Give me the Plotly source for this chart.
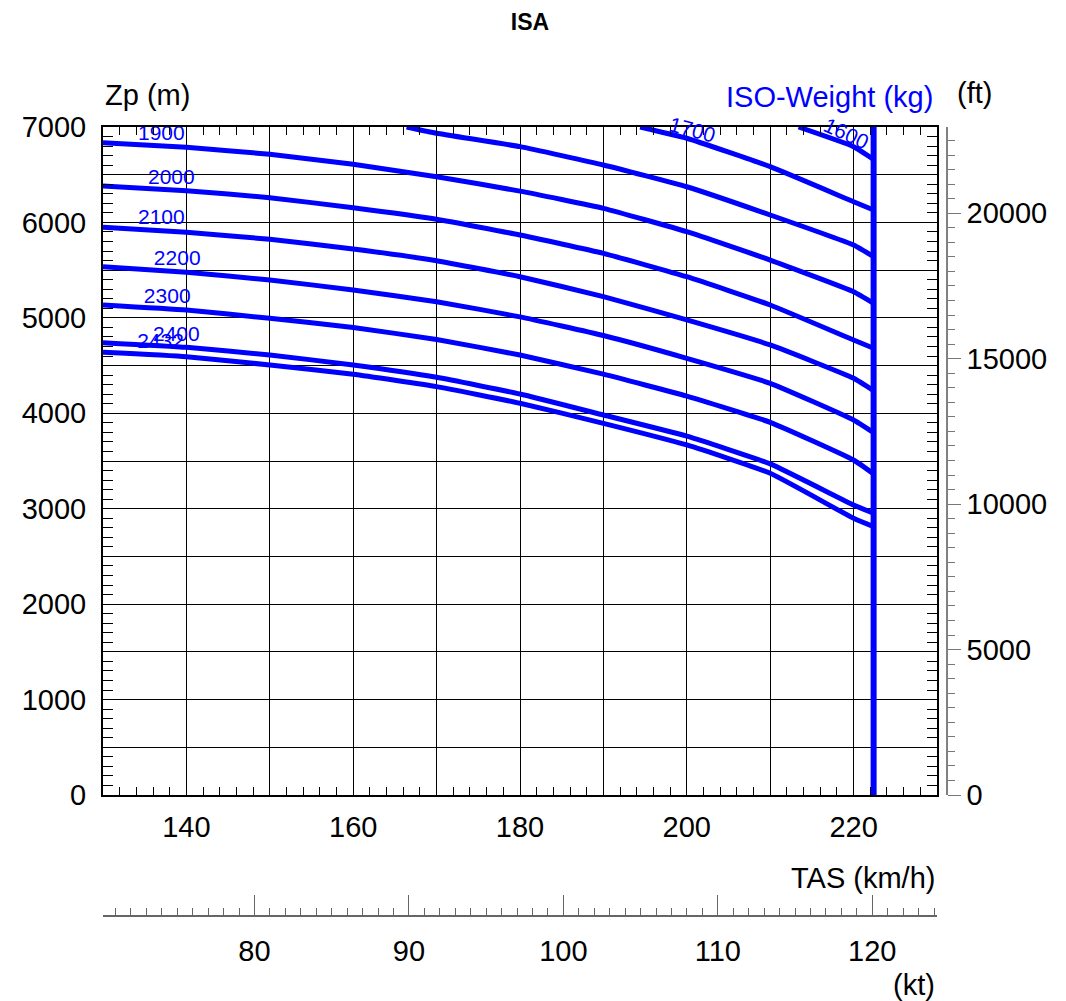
import plotly.graph_objects as go

# ---- data: ISO-weight ceiling curves, Zp (m) versus TAS (km/h) ----
tas_full = [130, 140, 150, 160, 170, 180, 190, 200, 210, 220, 222.4]
zp_1900 = [6835, 6787, 6714, 6609, 6479, 6328, 6148, 5903, 5606, 5274, 5153]
zp_2000 = [6382, 6333, 6259, 6154, 6033, 5868, 5676, 5431, 5135, 4768, 4681]
zp_2100 = [5949, 5897, 5823, 5722, 5599, 5431, 5222, 4978, 4716, 4367, 4237]
zp_2200 = [5536, 5477, 5397, 5292, 5169, 5010, 4815, 4576, 4314, 3930, 3797]
zp_2300 = [5135, 5082, 4995, 4899, 4773, 4610, 4410, 4180, 3905, 3510, 3364]
zp_2400 = [4740, 4691, 4611, 4506, 4377, 4202, 3982, 3760, 3470, 3039, 2952]
zp_2432 = [4639, 4593, 4506, 4408, 4279, 4105, 3895, 3668, 3371, 2900, 2812]

tas_1800 = [166.4, 170, 180, 190, 200, 210, 220, 222.4]
zp_1800 = [7000, 6934, 6794, 6602, 6374, 6078, 5763, 5641]
tas_1700 = [194.4, 200, 210, 220, 222.4]
zp_1700 = [7000, 6882, 6584, 6217, 6130]
tas_1600 = [213.4, 220, 222.4]
zp_1600 = [7000, 6794, 6661]

# limiting speed (vertical boundary)
vne_tas = 222.4
vne_zp = [0, 7000]

# curve labels
flat_labels = ["1900", "2000", "2100", "2200", "2300", "2400", "2432"]
flat_label_tas = [137.0, 138.2, 137.0, 138.9, 137.7, 138.8, 136.9]
flat_label_zp = [6916, 6462, 6036, 5614, 5215, 4810, 4735]
slant_labels = ["1800", "1700", "1600"]
slant_label_tas = [172.8, 200.7, 219.2]
slant_label_zp = [7021, 6969, 6934]
slant_label_angle = [6, 15, 25]

# axis ticks
zp_ticks = list(range(0, 7001, 500))
tas_ticks = list(range(130, 231, 10))
ft_ticks = [0, 5000, 10000, 15000, 20000]
kt_ticks = [80, 90, 100, 110, 120]

KMH_PER_KT = 1.852
M_PER_FT = 0.3048

BLUE = "#0000ff"
FONT = "Liberation Sans, Arial, sans-serif"

fig = go.Figure()

# labels first so the curves are drawn over them
fig.add_trace(go.Scatter(
    x=flat_label_tas, y=flat_label_zp, mode="text", text=flat_labels,
    textfont=dict(color=BLUE, size=21, family=FONT),
    textposition="middle center", cliponaxis=False, hoverinfo="skip",
    showlegend=False))

curves = [
    (tas_1600, zp_1600), (tas_1700, zp_1700), (tas_1800, zp_1800),
    (tas_full, zp_1900), (tas_full, zp_2000), (tas_full, zp_2100),
    (tas_full, zp_2200), (tas_full, zp_2300), (tas_full, zp_2400),
    (tas_full, zp_2432),
]
for xs, ys in curves:
    fig.add_trace(go.Scatter(
        x=xs, y=ys, mode="lines",
        line=dict(color=BLUE, width=5, shape="spline", smoothing=0.4),
        showlegend=False, hoverinfo="skip"))

fig.add_trace(go.Scatter(
    x=[vne_tas, vne_tas], y=vne_zp, mode="lines",
    line=dict(color=BLUE, width=6), showlegend=False, hoverinfo="skip"))

# secondary scales (ft and kt) carry no marks
fig.add_trace(go.Scatter(x=[], y=[], xaxis="x", yaxis="y2", showlegend=False))
fig.add_trace(go.Scatter(x=[], y=[], xaxis="x2", yaxis="y", showlegend=False))

for t, xv, yv, ang in zip(slant_labels, slant_label_tas, slant_label_zp, slant_label_angle):
    fig.add_annotation(x=xv, y=yv, xref="x", yref="y", text=t, showarrow=False,
                       textangle=ang, font=dict(color=BLUE, size=21, family=FONT))

tick_font = dict(family=FONT, size=29, color="black")

fig.update_layout(
    width=1066, height=1001,
    margin=dict(l=103, r=60, t=127, b=40),
    paper_bgcolor="white", plot_bgcolor="white",
    font=dict(family=FONT, color="black"),
    title=dict(text="<b>ISA</b>", x=530 / 1066, y=1 - 22 / 1001, xref="container",
               yref="container", xanchor="center", yanchor="middle",
               font=dict(size=23, family=FONT, color="black")),
    xaxis=dict(
        domain=[0, 834 / 903], range=[130, 230],
        tickvals=tas_ticks,
        ticktext=[str(v) if v % 20 == 0 and 130 < v < 230 else "" for v in tas_ticks],
        tickfont=tick_font, ticks="inside", ticklen=8, tickcolor="black",
        ticklabelstandoff=5,
        showgrid=True, gridcolor="black", gridwidth=1,
        showline=True, linecolor="black", linewidth=2, mirror="ticks",
        minor=dict(dtick=2, ticks="inside", ticklen=8, tickcolor="black", showgrid=False),
        zeroline=False, fixedrange=True,
    ),
    yaxis=dict(
        domain=[(961 - 795) / 834, 1], range=[0, 7000],
        tickvals=zp_ticks,
        ticktext=[str(v) if v % 1000 == 0 else "" for v in zp_ticks],
        tickfont=tick_font, ticks="inside", ticklen=10, tickcolor="black",
        ticklabelstandoff=9,
        showgrid=True, gridcolor="black", gridwidth=1,
        showline=True, linecolor="black", linewidth=2, mirror="ticks",
        minor=dict(dtick=100, ticks="inside", ticklen=10, tickcolor="black", showgrid=False),
        zeroline=False, fixedrange=True,
    ),
    yaxis2=dict(
        overlaying="y", anchor="free", position=(946.7 - 103) / 903, side="right",
        range=[0, 7000 / M_PER_FT], tickvals=ft_ticks,
        ticktext=[str(v) for v in ft_ticks],
        tickfont=tick_font, ticks="outside", ticklen=13, tickcolor="#777777",
        showline=True, linecolor="#808080", linewidth=2, showgrid=False,
        minor=dict(dtick=500, ticks="outside", ticklen=7, tickcolor="#777777"),
        zeroline=False, fixedrange=True,
    ),
    xaxis2=dict(
        overlaying="x", anchor="free", position=(961 - 915.7) / 834, side="bottom",
        range=[130 / KMH_PER_KT, 230 / KMH_PER_KT], tickvals=kt_ticks,
        ticktext=[str(v) for v in kt_ticks],
        tickfont=tick_font, ticks="inside", ticklen=20, tickcolor="#666666",
        ticklabelstandoff=9,
        showline=True, linecolor="#666666", linewidth=2, showgrid=False,
        minor=dict(dtick=1, ticks="inside", ticklen=7, tickcolor="#666666"),
        zeroline=False, fixedrange=True,
    ),
)

# axis titles
title_font = dict(size=29, family=FONT, color="black")
fig.add_annotation(x=0, y=(961 - 95) / 834, xref="paper", yref="paper", text="Zp (m)",
                   showarrow=False, xanchor="left", yanchor="middle", font=title_font)
fig.add_annotation(x=(935 - 103) / 903, y=(961 - 97) / 834, xref="paper", yref="paper",
                   text="ISO-Weight (kg)", showarrow=False, xanchor="right",
                   yanchor="middle", font=dict(size=29, family=FONT, color=BLUE))
fig.add_annotation(x=(955 - 103) / 903, y=(961 - 93) / 834, xref="paper", yref="paper",
                   text="(ft)", showarrow=False, xanchor="left", yanchor="middle",
                   font=title_font)
fig.add_annotation(x=834 / 903, y=(961 - 878) / 834, xref="paper", yref="paper",
                   text="TAS (km/h)", showarrow=False, xanchor="right", yanchor="middle",
                   font=title_font)
fig.add_annotation(x=834 / 903, y=(961 - 985) / 834, xref="paper", yref="paper",
                   text="(kt)", showarrow=False, xanchor="right", yanchor="middle",
                   font=title_font)

fig.write_html("out.html")
